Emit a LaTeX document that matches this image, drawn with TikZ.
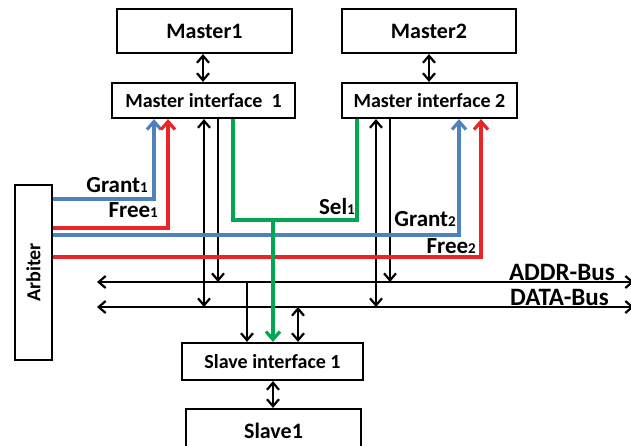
\documentclass[tikz,border=0pt]{standalone}
\usepackage{fontspec}
\setmainfont{Carlito}
\usetikzlibrary{arrows.meta}
\definecolor{grantblue}{RGB}{79,129,189}
\definecolor{freered}{RGB}{232,38,42}
\definecolor{selgreen}{RGB}{0,166,80}
\newcommand{\sm}[1]{{\fontsize{15}{15}\selectfont #1}}
\newcommand{\drawbus}{\draw[line width=2.2pt, {Straight Barb[length=7pt,width=12pt]}-{Straight Barb[length=7pt,width=12pt]}]}
\newcommand{\drawsig}{\draw[line width=3.2pt, -{Straight Barb[length=8pt,width=14pt]}]}
\tikzset{
  unit/.style={draw, line width=2.2pt, inner sep=0pt, font=\bfseries\fontsize{20}{24}\selectfont},
  bigunit/.style={unit, font=\bfseries\fontsize{22}{26}\selectfont},
  lbl/.style={inner sep=0pt, font=\bfseries\fontsize{23}{27}\selectfont},
  buslbl/.style={lbl, font=\bfseries\fontsize{25}{29}\selectfont},
  blk/.style={line width=2.2pt, -{Straight Barb[length=7pt,width=12pt]}},
  blkboth/.style={line width=2.2pt, {Straight Barb[length=7pt,width=12pt]}-{Straight Barb[length=7pt,width=12pt]}}
}

\begin{document}
\begin{tikzpicture}[x=1pt, y=-1pt]
    \useasboundingbox (0,0) rectangle (631,445);

    % Draw boxes
    \node[bigunit, minimum width=175pt, minimum height=44pt] (m1) at (204.5,31) {Master1};
    \node[bigunit, minimum width=174pt, minimum height=44pt] (m2) at (429,31) {Master2};
    \node[unit, minimum width=183pt, minimum height=35pt] (mi1) at (203.5,100.5) {Master interface~~1};
    \node[unit, minimum width=175pt, minimum height=35pt] (mi2) at (429.5,100.5) {Master interface 2};
    \node[unit, minimum width=37pt, minimum height=175pt] (arb) at (33.5,272.5) {};
    \node[lbl, rotate=90, font=\bfseries\fontsize{20}{24}\selectfont] (arbtxt) at (arb.center) {Arbiter};
    \node[unit, minimum width=181pt, minimum height=37pt] (si1) at (272.5,361.5) {Slave interface 1};
    \node[bigunit, minimum width=175pt, minimum height=44pt] (s1) at (273.5,431) {Slave1};

    % Draw buses
    \coordinate (addrL) at (97,282);
    \coordinate (addrR) at (634,282);
    \coordinate (dataL) at (97,307);
    \coordinate (dataR) at (634,307);
    \drawbus (addrL) -- (addrR);
    \drawbus (dataL) -- (dataR);
    \node[buslbl, anchor=east] (addr) at (615,272) {ADDR-Bus};
    \node[buslbl, anchor=east] (data) at (609,297) {DATA-Bus};

    % Draw master links
    \draw[blkboth] (m1.south -| 203,0) -- (mi1.north -| 203,0);
    \draw[blkboth] (m2.south -| 429,0) -- (mi2.north -| 429,0);
    \draw[blkboth] (mi1.south -| 204,0) -- (dataL -| 204,0);
    \draw[blk] (mi1.south -| 218,0) -- (addrL -| 218,0);
    \draw[blkboth] (mi2.south -| 376,0) -- (dataL -| 376,0);
    \draw[blk] (mi2.south -| 390,0) -- (addrL -| 390,0);

    % Draw slave links
    \draw[blk] (addrL -| 247,0) -- (si1.north -| 247,0);
    \draw[blkboth] (dataL -| 298,0) -- (si1.north -| 298,0);
    \draw[blkboth] (si1.south -| 273,0) -- (s1.north -| 273,0);

    % Draw grant and free signals
    \drawsig[grantblue] (arb.east |- 0,199) -| (mi1.south -| 154,0);
    \drawsig[freered] (arb.east |- 0,228) -| (mi1.south -| 168,0);
    \drawsig[grantblue] (arb.east |- 0,235) -| (mi2.south -| 459,0);
    \drawsig[freered] (arb.east |- 0,257) -| (mi2.south -| 481,0);
    \node[lbl, anchor=east] (g1) at (148,185) {Grant\sm{1}};
    \node[lbl, anchor=east] (f1) at (158,210) {Free\sm{1}};
    \node[lbl, anchor=east] (g2) at (456,219) {Grant\sm{2}};
    \node[lbl, anchor=east] (f2) at (476,246) {Free\sm{2}};

    % Draw select signal
    \coordinate (selj) at (273,220);
    \draw[selgreen, line width=3.2pt] (mi1.south -| 233,0) |- (selj) -| (mi2.south -| 357,0);
    \drawsig[selgreen] (selj) -- (si1.north -| 273,0);
    \node[lbl, anchor=east] (sel) at (355,207) {Sel\sm{1}};
\end{tikzpicture}
\end{document}
